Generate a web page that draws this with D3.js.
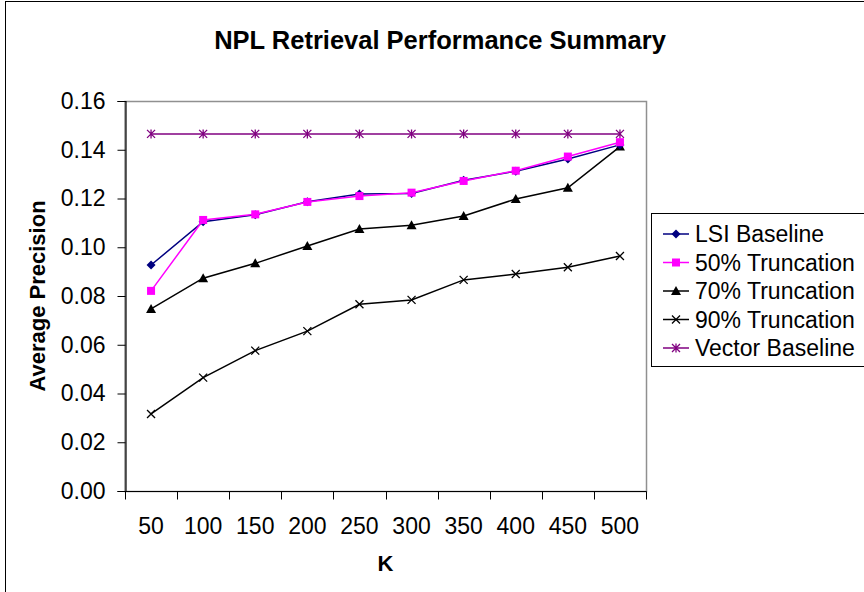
<!DOCTYPE html>
<html>
<head>
<meta charset="utf-8">
<script src="https://cdn.jsdelivr.net/npm/d3@7"></script>
<style>
  html, body { margin: 0; padding: 0; background: #fff; }
  svg { display: block; }
  text { font-family: "Liberation Sans", Arial, sans-serif; fill: #000; }
</style>
</head>
<body>
<svg id="chart" width="864" height="592"></svg>
<script>
const categories = ["50","100","150","200","250","300","350","400","450","500"];
const lsiBaseline   = [0.0927,0.1105,0.1133,0.1187,0.1218,0.1221,0.1275,0.1312,0.1362,0.1420];
const trunc50       = [0.0821,0.1112,0.1135,0.1186,0.1210,0.1224,0.1272,0.1314,0.1372,0.1431];
const trunc70       = [0.0747,0.0873,0.0934,0.1005,0.1075,0.1090,0.1128,0.1198,0.1244,0.1413];
const trunc90       = [0.0316,0.0465,0.0576,0.0656,0.0766,0.0784,0.0866,0.0890,0.0918,0.0964];
const vectorBaseline= [0.1465,0.1465,0.1465,0.1465,0.1465,0.1465,0.1465,0.1465,0.1465,0.1465];
const yTicks = [0,0.02,0.04,0.06,0.08,0.10,0.12,0.14,0.16];
const seriesNames = ["LSI Baseline","50% Truncation","70% Truncation","90% Truncation","Vector Baseline"];
const seriesColors = ["#000080","#FF00FF","#000000","#000000","#800080"];
const seriesMarkers = ["diamond","square","triangle","x","asterisk"];
const seriesValues = [lsiBaseline, trunc50, trunc70, trunc90, vectorBaseline];

const svg = d3.select("#chart");
const plot = {left:125, top:101, right:646, bottom:491};

// outer chart frame
svg.append("rect").attr("x",5.5).attr("y",1.5).attr("width",900).attr("height",700)
  .attr("fill","#fff").attr("stroke","#000").attr("stroke-width",1);

const x = d3.scaleBand().domain(categories).range([plot.left, plot.right]);
const y = d3.scaleLinear().domain([0,0.16]).range([plot.bottom, plot.top]);

// plot area border (gray)
svg.append("rect").attr("x",plot.left).attr("y",plot.top+0.5)
  .attr("width",plot.right-plot.left+0.5).attr("height",plot.bottom-plot.top)
  .attr("fill","#fff").attr("stroke","#909090").attr("stroke-width",1.5);

// Y axis
const yAxis = d3.axisLeft(y).tickValues(yTicks).tickSize(8).tickPadding(12)
  .tickFormat(d3.format(".2f"));
const gy = svg.append("g").attr("transform",`translate(${plot.left+0.5},0)`).call(yAxis);
gy.select(".domain").attr("stroke","#000").attr("stroke-width",1.2);
gy.selectAll(".tick line").attr("stroke","#000");
gy.selectAll(".tick text").style("font-size","23px").style("font-family","'Liberation Sans', Arial, sans-serif");

// X axis (ticks at category boundaries)
const gx = svg.append("g").attr("transform",`translate(0,${plot.bottom+0.5})`);
gx.append("line").attr("x1",plot.left).attr("x2",plot.right+0.5).attr("y1",0).attr("y2",0)
  .attr("stroke","#000").attr("stroke-width",1.2);
const boundaries = categories.map(c => x(c)).concat([x(categories[categories.length-1]) + x.bandwidth()]);
gx.selectAll("line.tk").data(boundaries).join("line").attr("class","tk")
  .attr("x1",d=>Math.round(d)+0.5).attr("x2",d=>Math.round(d)+0.5).attr("y1",0).attr("y2",8)
  .attr("stroke","#000");
gx.selectAll("text.lbl").data(categories).join("text").attr("class","lbl")
  .attr("x",d=>x(d)+x.bandwidth()/2).attr("y",34)
  .attr("text-anchor","middle").attr("dominant-baseline","central")
  .style("font-size","23px").text(d=>d);

// Lines and markers
const line = d3.line().x((d,i)=>x(categories[i])+x.bandwidth()/2).y(d=>y(d));

function drawMarker(g, type, color, cx, cy) {
  if (type === "diamond") {
    g.append("path").attr("d",`M${cx},${cy-4.5}L${cx+4.5},${cy}L${cx},${cy+4.5}L${cx-4.5},${cy}Z`).attr("fill",color);
  } else if (type === "square") {
    g.append("rect").attr("x",cx-4).attr("y",cy-4).attr("width",8).attr("height",8).attr("fill",color);
  } else if (type === "triangle") {
    g.append("path").attr("d",`M${cx},${cy-5}L${cx+5},${cy+4}L${cx-5},${cy+4}Z`).attr("fill",color);
  } else if (type === "x") {
    g.append("path").attr("d",`M${cx-4},${cy-4}L${cx+4},${cy+4}M${cx-4},${cy+4}L${cx+4},${cy-4}`)
      .attr("stroke",color).attr("stroke-width",1.3).attr("fill","none");
  } else if (type === "asterisk") {
    g.append("path").attr("d",`M${cx-4},${cy-4}L${cx+4},${cy+4}M${cx-4},${cy+4}L${cx+4},${cy-4}M${cx},${cy-4.5}L${cx},${cy+4.5}`)
      .attr("stroke",color).attr("stroke-width",1.3).attr("fill","none");
  }
}

const order = [4,3,2,0,1];
order.forEach(si => {
  const g = svg.append("g");
  g.append("path").datum(seriesValues[si]).attr("d",line)
    .attr("fill","none").attr("stroke",seriesColors[si]).attr("stroke-width",1.5);
  seriesValues[si].forEach((v,i) => {
    drawMarker(g, seriesMarkers[si], seriesColors[si], x(categories[i])+x.bandwidth()/2, y(v));
  });
});

// Title
svg.append("text").attr("x",440).attr("y",40).attr("text-anchor","middle")
  .attr("dominant-baseline","central").style("font-size","25.5px").style("font-weight","bold")
  .text("NPL Retrieval Performance Summary");

// Axis titles
svg.append("text").attr("x",(plot.left+plot.right)/2).attr("y",563).attr("text-anchor","middle")
  .attr("dominant-baseline","central").style("font-size","22px").style("font-weight","bold").text("K");
svg.append("text").attr("transform",`translate(37,${(plot.top+plot.bottom)/2}) rotate(-90)`)
  .attr("text-anchor","middle").attr("dominant-baseline","central")
  .style("font-size","22px").style("font-weight","bold").text("Average Precision");

// Legend
const lg = svg.append("g");
lg.append("rect").attr("x",651.5).attr("y",213.5).attr("width",260).attr("height",153)
  .attr("fill","#fff").attr("stroke","#000").attr("stroke-width",1);
const legendRowY = d3.scalePoint().domain(seriesNames).range([234,348]);
seriesNames.forEach((name, si) => {
  const cy = legendRowY(name);
  lg.append("line").attr("x1",663).attr("x2",689).attr("y1",cy).attr("y2",cy)
    .attr("stroke",seriesColors[si]).attr("stroke-width",1.5);
  drawMarker(lg, seriesMarkers[si], seriesColors[si], 676, cy);
  lg.append("text").attr("x",695).attr("y",cy).attr("dominant-baseline","central")
    .style("font-size","23px").text(name);
});
</script>
</body>
</html>
